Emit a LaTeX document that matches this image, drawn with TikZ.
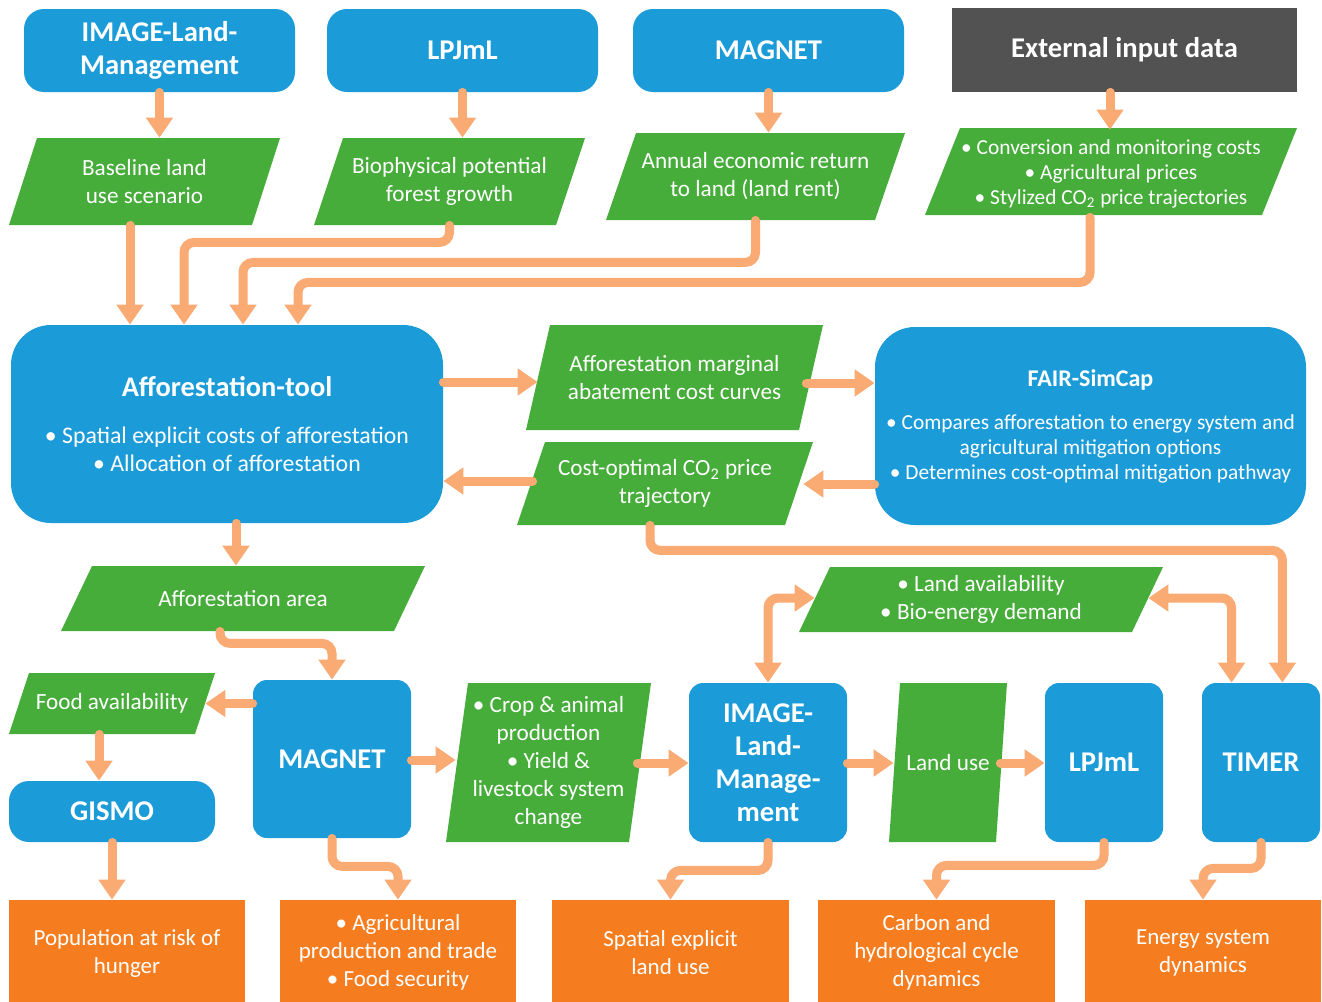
\documentclass[tikz,border=0pt]{standalone}
\usepackage{fontspec}
\setmainfont{Carlito}
\usetikzlibrary{arrows.meta,calc}
\definecolor{cblue}{RGB}{27,155,215}
\definecolor{cgreen}{RGB}{70,172,58}
\definecolor{corange}{RGB}{245,125,32}
\definecolor{carrow}{RGB}{250,170,115}
\definecolor{cgray}{RGB}{82,82,82}
\tikzset{
  x=0.5pt, y=-0.5pt,
  base/.style={inner sep=0pt, align=center, text=white},
  bluebox/.style={base, fill=cblue, rounded corners=10pt, font=\bfseries\fontsize{14.3}{16.5}\selectfont},
  midbox/.style={bluebox, rounded corners=7pt},
  bigbox/.style={base, fill=cblue, rounded corners=20pt},
  graybox/.style={base, fill=cgray, font=\bfseries\fontsize{14.3}{16.5}\selectfont},
  orbox/.style={base, fill=corange, font=\fontsize{11.5}{14}\selectfont},
  gtext/.style={base, font=\fontsize{11.6}{14}\selectfont},
  arr/.style={draw=carrow, line width=4.5pt, line cap=round, rounded corners=5pt,
    -{Triangle[width=13pt,length=10pt]}},
  arrtwo/.style={arr, {Triangle[width=13pt,length=10pt]}-{Triangle[width=13pt,length=10pt]}},
}
% style, name, x1, y1, x2, y2, text
\newcommand\boxnode[7]{%
  \node[#1, minimum width={(#5-#3)*0.5pt}, minimum height={(#6-#4)*0.5pt}]
    (#2) at ({(#3+#5)/2},{(#4+#6)/2}) {#7};}
% [options], name, x1, y1, x2, y2, slant, text
\newcommand\para[8][]{%
  \fill[cgreen] ({#3+#7},#4) -- (#5,#4) -- ({#5-#7},#6) -- (#3,#6) -- cycle;
  \node[gtext, minimum width={(#5-#3)*0.5pt}, minimum height={(#6-#4)*0.5pt}, #1]
    (#2) at ({(#3+#5)/2},{(#4+#6)/2}) {#8};}
\begin{document}
\begin{tikzpicture}
\useasboundingbox[fill=white] (0,0) rectangle (1322,1001);

% top row
\boxnode{bluebox}{img1}{24}{9}{295}{92}{IMAGE-Land-\\Management}
\boxnode{bluebox}{lpj1}{327}{9}{598}{92}{LPJmL}
\boxnode{bluebox}{mag1}{633}{9}{904}{92}{MAGNET}
\boxnode{graybox}{ext}{952}{8}{1297}{92}{External input data}

% second row
\para{base}{9}{138}{280}{225}{28}{Baseline land\\use scenario}
\para{bio}{314}{138}{585}{225}{29}{Biophysical potential\\forest growth}
\para{ann}{606}{133}{905}{220}{30}{Annual economic return\\to land (land rent)}
\para[font=\fontsize{10.7}{12.5}\selectfont, yshift=-1pt]{conv}{925}{128}{1297}{215}{35}{• Conversion and monitoring costs\\• Agricultural prices\\• Stylized CO\textsubscript{2} price trajectories}

% middle
\boxnode{bigbox, font=\fontsize{11.9}{14}\selectfont}{aff}{11}{325}{443}{523}{{\bfseries\fontsize{14.2}{16}\selectfont Afforestation-tool}\\[9.5pt]
  • Spatial explicit costs of afforestation\\• Allocation of afforestation}
\boxnode{bigbox, font=\fontsize{10.7}{12.5}\selectfont}{fair}{875}{327}{1306}{525}{{\bfseries\fontsize{12}{14}\selectfont FAIR-SimCap}\\[9pt]
  • Compares afforestation to energy system and\\agricultural mitigation options\\• Determines cost-optimal mitigation pathway}
\para{mac}{526}{325}{823}{430}{24}{Afforestation marginal\\abatement cost curves}
\para{cost}{517}{442}{813}{525}{28}{Cost-optimal CO\textsubscript{2} price\\trajectory}

% lower
\para{area}{61}{566}{425}{631}{31}{Afforestation area}
\para{food}{9}{673}{215}{734}{20}{Food availability}
\boxnode{midbox}{mag2}{253}{680}{411}{838}{MAGNET}
\boxnode{bluebox}{gismo}{9}{781}{215}{842}{GISMO}
\para{crop}{446}{683}{651}{842}{22}{• Crop \& animal\\production\\• Yield \&\\livestock system\\change}
\boxnode{midbox}{img2}{689}{683}{847}{842}{IMAGE-\\Land-\\Manage-\\ment}
\para{lav}{799}{567}{1163}{632}{31}{• Land availability\\• Bio-energy demand}
\para{lu}{889}{683}{1007}{842}{11}{Land use}
\boxnode{midbox}{lpj2}{1045}{683}{1163}{842}{LPJmL}
\boxnode{midbox}{timer}{1202}{683}{1320}{842}{TIMER}

% outputs
\boxnode{orbox}{pop}{9}{900}{245}{1006}{Population at risk of\\hunger}
\boxnode{orbox}{agri}{280}{900}{516}{1004}{• Agricultural\\production and trade\\• Food security}
\boxnode{orbox}{spat}{552}{900}{789}{1006}{Spatial explicit\\land use}
\boxnode{orbox}{carb}{818}{900}{1055}{1004}{Carbon and\\hydrological cycle\\dynamics}
\boxnode{orbox}{ener}{1085}{900}{1321}{1006}{Energy system\\dynamics}

% connectors, top
\draw[arr] (img1.south) -- (base.north -| img1.south);
\draw[arr] (lpj1.south) -- (bio.north -| lpj1.south);
\draw[arr] (mag1.south) -- (ann.north -| mag1.south);
\draw[arr] (ext.south -| 1110,0) -- (conv.north -| 1110,0);
\draw[arr] (base.south -| 130,0) -- (aff.north -| 130,0);
\draw[arr] (bio.south) -- ++(0,17) -| (aff.north -| 184,0);
\draw[arr] (ann.south) -- ++(0,42) -| (aff.north -| 243,0);
\draw[arr] (conv.south -| 1090,0) -- ++(0,65) -| (aff.north -| 298,0);

% middle
\draw[arr] (aff.east |- 0,382) -- ($(mac.west)+(12,4.5)$);
\draw[arr] ($(mac.east)+(-17,5.5)$) -- (fair.west |- 0,383);
\draw[arr] (fair.west |- 0,484) -- ($(cost.east)+(-10,0.5)$);
\draw[arr] ($(cost.west)+(16,-2.5)$) -- (aff.east |- 0,481);
\draw[arr] ($(cost.south)+(-15,0)$) -- ++(0,25) -| ($(timer.north east)+(-38,0)$);

% lower
\draw[arr] (aff.south -| 236,0) -- (area.north -| 236,0);
\draw[arr] ($(area.south)+(-23,0)$) -- ++(0,12) -| (mag2.north);
\draw[arr] (mag2.west |- food.east) -- ($(food.east)+(-10,0)$);
\draw[arr] (food.south -| 99,0) -- (gismo.north -| 99,0);
\draw[arr] (gismo.south) -- (pop.north -| gismo.south);
\draw[arr] (mag2.south) -- ++(0,28) -| (agri.north);
\draw[arr] (mag2.east |- 0,760) -- ($(crop.west)+(10,-2.5)$);
\draw[arr] ($(crop.east)+(-14,0.5)$) -- (img2.west |- 0,763);
\draw[arr] (img2.east |- 0,763) -- ($(lu.west)+(5,0.5)$);
\draw[arr] ($(lu.east)+(-7,0.5)$) -- (lpj2.west |- 0,763);
\draw[arrtwo] ($(lav.west)+(16,-1.5)$) -| (img2.north);
\draw[arrtwo] ($(lav.east)+(-15,-1.5)$) -| ($(timer.north west)+(30,0)$);
\draw[arr] (img2.south) -- ++(0,28) -| (spat.north);
\draw[arr] (lpj2.south) -- ++(0,23) -| (carb.north);
\draw[arr] (timer.south) -- ++(0,26) -| (ener.north);
\end{tikzpicture}
\end{document}
